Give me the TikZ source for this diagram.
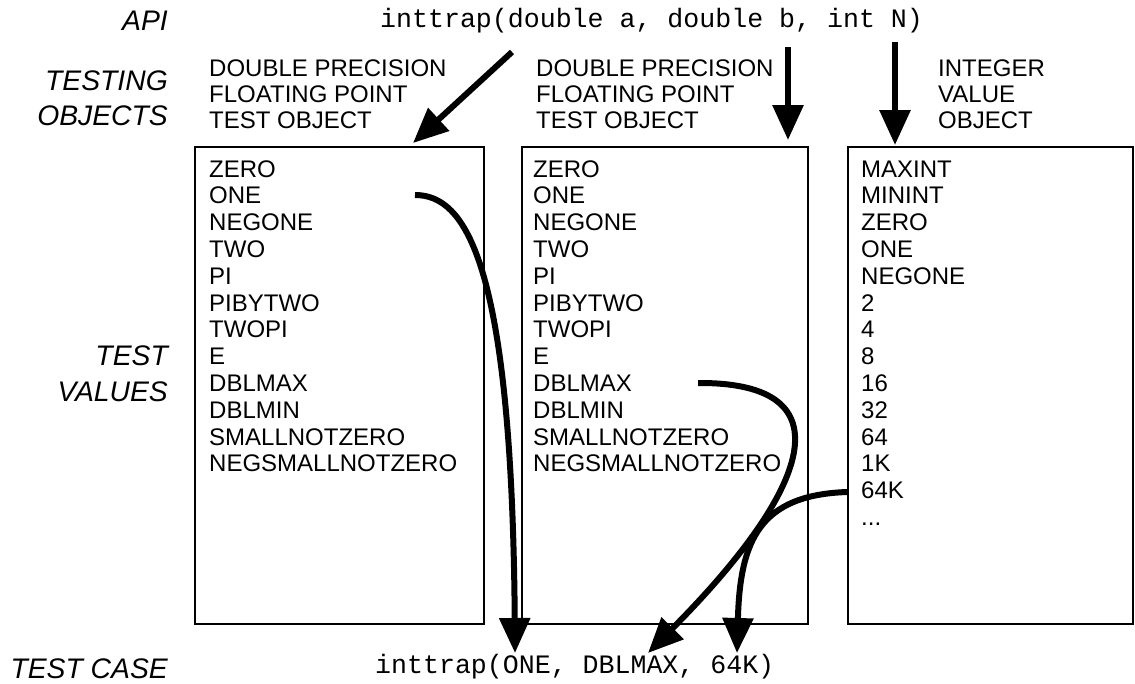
\documentclass[tikz,border=0pt]{standalone}
\usepackage{fontspec}
\setmainfont{Liberation Sans}
\setmonofont{Liberation Mono}
\usetikzlibrary{arrows.meta}

\tikzset{
  item/.style={anchor=base west,inner sep=0pt,font=\fontsize{24}{27}\selectfont},
  rowname/.style={anchor=base east,inner sep=0pt,font=\fontsize{28.3}{30}\selectfont\itshape},
  apicode/.style={anchor=base west,inner sep=0pt,font=\ttfamily\fontsize{26.6}{30}\selectfont},
  testbox/.style={draw=black,line width=2.5pt},
  bigarrow/.style={draw=black,line width=6pt,-{Triangle[length=35pt,width=30pt]}}
}

\begin{document}
\begin{tikzpicture}[x=1pt,y=-1pt]
\useasboundingbox (0,0) rectangle (1135,683);

%row names
\node[rowname] (api) at (168,30) {API};
\node[rowname] (testing) at (168,90) {TESTING};
\node[rowname] (objects) at (168,125) {OBJECTS};
\node[rowname] (test) at (168,365) {TEST};
\node[rowname] (values) at (168,401) {VALUES};
\node[rowname] (testcase) at (168,678) {TEST CASE};

%calls
\node[apicode] (call) at (380,27) {inttrap(double a, double b, int N)};
\node[apicode] (case) at (375,673) {inttrap(ONE, DBLMAX, 64K)};

%double a
\node[item] (ha1) at (209,76) {DOUBLE PRECISION};
\node[item] (ha2) at (209,102) {FLOATING POINT};
\node[item] (ha3) at (209,128) {TEST OBJECT};
\draw[testbox] (195,147) rectangle (484,624);
\node[item] (a1) at (209,177) {ZERO};
\node[item] (a2) at (209,203.8) {ONE};
\node[item] (a3) at (209,230.6) {NEGONE};
\node[item] (a4) at (209,257.4) {TWO};
\node[item] (a5) at (209,284.2) {PI};
\node[item] (a6) at (209,311) {PIBYTWO};
\node[item] (a7) at (209,337.8) {TWOPI};
\node[item] (a8) at (209,364.6) {E};
\node[item] (a9) at (209,391.4) {DBLMAX};
\node[item] (a10) at (209,418.2) {DBLMIN};
\node[item] (a11) at (209,445) {SMALLNOTZERO};
\node[item] (a12) at (209,471.8) {NEGSMALLNOTZERO};

%double b
\node[item] (hb1) at (536,76) {DOUBLE PRECISION};
\node[item] (hb2) at (536,102) {FLOATING POINT};
\node[item] (hb3) at (536,128) {TEST OBJECT};
\draw[testbox] (522,147) rectangle (808,624);
\node[item] (b1) at (533,177) {ZERO};
\node[item] (b2) at (533,203.8) {ONE};
\node[item] (b3) at (533,230.6) {NEGONE};
\node[item] (b4) at (533,257.4) {TWO};
\node[item] (b5) at (533,284.2) {PI};
\node[item] (b6) at (533,311) {PIBYTWO};
\node[item] (b7) at (533,337.8) {TWOPI};
\node[item] (b8) at (533,364.6) {E};
\node[item] (b9) at (533,391.4) {DBLMAX};
\node[item] (b10) at (533,418.2) {DBLMIN};
\node[item] (b11) at (533,445) {SMALLNOTZERO};
\node[item] (b12) at (533,471.8) {NEGSMALLNOTZERO};

%int N
\node[item] (hn1) at (938,76) {INTEGER};
\node[item] (hn2) at (938,102) {VALUE};
\node[item] (hn3) at (938,128) {OBJECT};
\draw[testbox] (848,147) rectangle (1133,624);
\node[item] (n1) at (861,177) {MAXINT};
\node[item] (n2) at (861,203.8) {MININT};
\node[item] (n3) at (861,230.6) {ZERO};
\node[item] (n4) at (861,257.4) {ONE};
\node[item] (n5) at (861,284.2) {NEGONE};
\node[item] (n6) at (861,311) {2};
\node[item] (n7) at (861,337.8) {4};
\node[item] (n8) at (861,364.6) {8};
\node[item] (n9) at (861,391.4) {16};
\node[item] (n10) at (861,418.2) {32};
\node[item] (n11) at (861,445) {64};
\node[item] (n12) at (861,471.8) {1K};
\node[item] (n13) at (861,498.6) {64K};
\node[item] (n14) at (861,525.4) {...};

%arguments to objects
\coordinate (sa) at (512,52);
\coordinate (ea) at (413,143);
\path[bigarrow] (sa) -- (ea);
\coordinate (sb) at (788,47);
\coordinate (eb) at (788,140);
\path[bigarrow] (sb) -- (eb);
\coordinate (sn) at (895,42);
\coordinate (en) at (895,145);
\path[bigarrow] (sn) -- (en);

%values to test case
\coordinate (pone) at (415,195);
\coordinate (tone) at (515,653);
\path[bigarrow] (pone) .. controls (465,195) and (512,260) .. (tone);
\coordinate (pmax) at (698,383);
\coordinate (tmax) at (648,653);
\path[bigarrow] (pmax) .. controls (850,382) and (810,490) .. (tmax);
\coordinate (pk) at (847,492);
\coordinate (tk) at (737,653);
\path[bigarrow] (pk) .. controls (760,495) and (740,540) .. (tk);

\end{tikzpicture}
\end{document}
